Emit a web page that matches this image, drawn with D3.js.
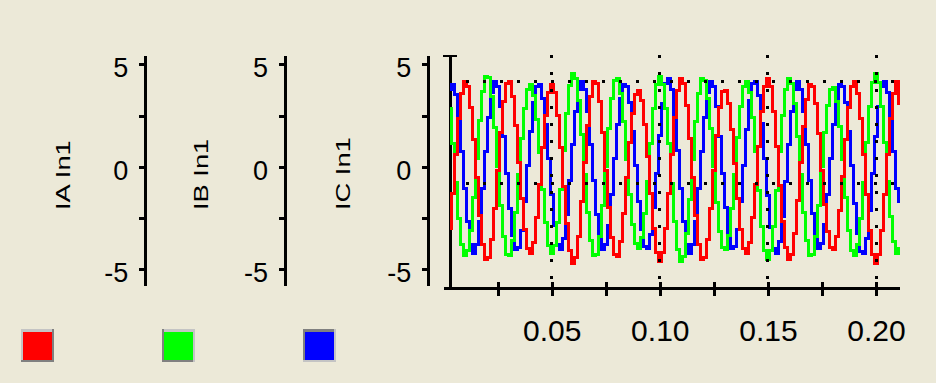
<!DOCTYPE html>
<html>
<head>
<meta charset="utf-8">
<script src="https://cdn.jsdelivr.net/npm/d3@7"></script>
<style>
  html, body { margin: 0; padding: 0; background: #ECE9D8; }
  svg { display: block; }
  text { font-family: "Liberation Sans", Arial, sans-serif; fill: #000; }
</style>
</head>
<body>
<svg id="chart" width="936" height="383"></svg>
<script>
// ---- data -------------------------------------------------------------
const sampleRate = 720;     // samples per second
const firstSample = 2;      // index of the first stored sample

const seriesNames = ["IA In1", "IB In1", "IC In1"];

const iaValues = [
  -2.98, -1.29, 0.60, 2.34, 3.60, 4.16, 3.92, 2.91, 1.33, -0.53,
  -2.36, -3.77, -4.50, -4.42, -3.54, -2.02, -0.15, 1.70, 3.21, 4.08,
  4.16, 3.44, 2.04, 0.23, -1.54, -3.03, -3.98, -4.20, -3.67, -2.49,
  -0.86, 0.93, 2.53, 3.63, 4.02, 3.63, 2.53, 0.93, -0.94, -2.77,
  -4.10, -4.69, -4.44, -3.37, -1.71, 0.23, 2.04, 3.44, 4.16, 4.08,
  3.21, 1.70, -0.15, -1.96, -3.43, -4.28, -4.37, -3.66, -2.29, -0.52,
  1.19, 2.61, 3.53, 3.74, 3.24, 2.09, 0.53, -1.31, -3.02, -4.19,
  -4.61, -4.19, -3.02, -1.31, 0.63, 2.43, 3.74, 4.32, 4.07, 3.02,
  1.39, -0.53, -2.36, -3.77, -4.50, -4.42, -3.54, -2.02, -0.15, 1.52,
  2.88, 3.67, 3.74, 3.09, 1.83, 0.19, -1.54, -3.03, -3.98, -4.20,
  -3.67, -2.49, -0.86, 1.01, 2.72, 3.90, 4.32, 3.90, 2.72, 1.01,
  -0.91, -2.66, -3.93, -4.50, -4.26, -3.24, -1.64, 0.22, 1.97, 3.31,
  4.02, 3.94, 3.09, 1.64, -0.15, -1.81, -3.16, -3.95, -4.02, -3.37,
  -2.12, -0.49, 1.33, 2.91, 3.92, 4.16, 3.60, 2.34, 0.60, -1.33,
  -3.09, -4.29, -4.72, -4.29, -3.09, -1.33, 0.60, 2.34, 3.60, 4.16,
  3.10
];

const ibValues = [
  2.83, 1.14, -0.76, -2.50, -3.78, -4.34, -4.10, -3.08, -1.49, 0.39,
  2.25, 3.69, 4.43, 4.35, 3.45, 1.90, 0.00, -1.87, -3.38, -4.26,
  -4.34, -3.61, -2.21, -0.38, 1.38, 2.86, 3.80, 4.02, 3.50, 2.32,
  0.70, -1.09, -2.70, -3.81, -4.20, -3.81, -2.70, -1.09, 0.80, 2.63,
  3.97, 4.56, 4.31, 3.24, 1.57, -0.38, -2.21, -3.61, -4.34, -4.26,
  -3.38, -1.87, 0.00, 1.86, 3.36, 4.24, 4.32, 3.60, 2.20, 0.38,
  -1.36, -2.81, -3.74, -3.96, -3.45, -2.28, -0.69, 1.15, 2.85, 4.01,
  4.43, 4.01, 2.85, 1.15, -0.81, -2.66, -4.01, -4.61, -4.35, -3.27,
  -1.58, 0.38, 2.20, 3.60, 4.32, 4.24, 3.36, 1.86, 0.00, -1.73,
  -3.13, -3.94, -4.02, -3.34, -2.04, -0.35, 1.43, 2.96, 3.93, 4.16,
  3.62, 2.40, 0.73, -1.17, -2.89, -4.08, -4.50, -4.08, -2.89, -1.17,
  0.76, 2.49, 3.76, 4.32, 4.08, 3.07, 1.48, -0.38, -2.21, -3.61,
  -4.34, -4.26, -3.38, -1.87, 0.00, 1.66, 3.00, 3.79, 3.86, 3.21,
  1.96, 0.34, -1.49, -3.08, -4.10, -4.34, -3.78, -2.50, -0.76, 1.18,
  2.93, 4.13, 4.56, 4.13, 2.93, 1.18, -0.73, -2.42, -3.65, -4.20,
  -3.97
];

const icValues = [
  3.80, 4.02, 3.51, 2.34, 0.74, -1.05, -2.68, -3.80, -4.20, -3.80,
  -2.68, -1.05, 0.77, 2.42, 3.63, 4.16, 3.93, 2.97, 1.46, -0.31,
  -2.02, -3.33, -4.02, -3.94, -3.11, -1.70, 0.05, 1.75, 3.14, 3.94,
  4.02, 3.35, 2.07, 0.40, -1.35, -2.84, -3.79, -4.02, -3.49, -2.30,
  -0.66, 1.11, 2.69, 3.77, 4.16, 3.77, 2.69, 1.11, -0.66, -2.30,
  -3.49, -4.02, -3.79, -2.84, -1.35, 0.40, 2.07, 3.35, 4.02, 3.94,
  3.14, 1.75, 0.05, -1.67, -3.07, -3.88, -3.96, -3.28, -1.99, -0.30,
  1.52, 3.08, 4.08, 4.32, 3.77, 2.51, 0.80, -1.05, -2.68, -3.80,
  -4.20, -3.80, -2.68, -1.05, 0.77, 2.42, 3.63, 4.16, 3.93, 2.97,
  1.46, -0.30, -1.99, -3.28, -3.96, -3.88, -3.07, -1.67, 0.05, 1.81,
  3.24, 4.08, 4.16, 3.47, 2.14, 0.41, -1.41, -2.97, -3.96, -4.20,
  -3.65, -2.40, -0.69, 1.11, 2.69, 3.77, 4.16, 3.77, 2.69, 1.11,
  -0.65, -2.26, -3.44, -3.96, -3.74, -2.80, -1.33, 0.40, 2.07, 3.35,
  4.02, 3.94, 3.14, 1.75, 0.05, -1.77, -3.25, -4.11, -4.20, -3.48,
  -2.11, -0.32, 1.46, 2.97, 3.93, 4.16, 3.63, 2.42, 0.77, -1.04,
  -1.70
];

const yTicks = [-5, -2.5, 0, 2.5, 5];
const yTickLabels = ["-5", "", "0", "", "5"];
const xTicks = [0.025, 0.05, 0.075, 0.10, 0.125, 0.15, 0.175, 0.20];
const xTickLabels = ["", "0.05", "", "0.10", "", "0.15", "", "0.20"];
const gridX = [0.05, 0.10, 0.15, 0.20];
const gridY = [4.18, -0.80];

// ---- styles -----------------------------------------------------------
const seriesColors = ["#FF0000", "#00FF00", "#0000FF"];
const LIGHT = "#C4C4C4", DARK = "#808080";
// bevel colours of each legend swatch: [top, left, bottom, right]
const swatchBevels = [
  [LIGHT, LIGHT, DARK, DARK],
  [LIGHT, DARK, DARK, LIGHT],
  [DARK, DARK, LIGHT, LIGHT]
];

// ---- scales -----------------------------------------------------------
const svg = d3.select("#chart");
const x = d3.scaleLinear().domain([0, 0.211]).range([443.6, 899.8]);
const y = d3.scaleLinear().domain([-5.76, 5.46]).range([285, 55]);

const series = [iaValues, ibValues, icValues];
const FONT = '"Liberation Sans", Arial, sans-serif';

// ---- one value axis per channel ---------------------------------------
const axisPos = [145.3, 285, 428.3];
const titlePos = [70, 208.3, 350];

seriesNames.forEach((name, k) => {
  const g = svg.append("g")
    .attr("transform", `translate(${axisPos[k]},0)`)
    .call(d3.axisLeft(y)
      .tickValues(yTicks)
      .tickSize(6)
      .tickSizeOuter(0)
      .tickPadding(11)
      .tickFormat((d, i) => yTickLabels[i]))
    .attr("font-family", FONT)
    .attr("font-size", 27)
    .attr("shape-rendering", "crispEdges");
  g.select(".domain").attr("stroke", "#000").attr("stroke-width", 3);
  g.selectAll(".tick line").attr("stroke", "#000").attr("stroke-width", 3);
  g.selectAll(".tick text").attr("fill", "#000").attr("dy", "0.46em");

  svg.append("text")
    .attr("transform", `translate(${titlePos[k]},210) rotate(-90) scale(1.3,1)`)
    .attr("text-anchor", "start")
    .attr("font-size", 21)
    .text(name);
});

// ---- plot frame ---------------------------------------------------------
const frame = svg.append("g").attr("shape-rendering", "crispEdges").attr("stroke", "#000");
frame.append("line").attr("x1", 450.5).attr("x2", 450.5).attr("y1", 55).attr("y2", 288)
  .attr("stroke-width", 3);
frame.append("line").attr("x1", 443).attr("x2", 457).attr("y1", 56).attr("y2", 56)
  .attr("stroke-width", 2.5);

const gx = svg.append("g")
  .attr("transform", "translate(0,287.5)")
  .call(d3.axisBottom(x)
    .tickValues(xTicks)
    .tickSizeOuter(0)
    .tickFormat((d, i) => xTickLabels[i]))
  .attr("font-family", FONT)
  .attr("font-size", 30)
  .attr("shape-rendering", "crispEdges");
gx.select(".domain").attr("stroke", "#000").attr("stroke-width", 3);
gx.selectAll(".tick line").attr("stroke", "#000").attr("stroke-width", 3)
  .attr("y1", -6).attr("y2", 8);
gx.selectAll(".tick text").attr("fill", "#000").attr("y", 53).attr("dy", 0);

// ---- waveforms ----------------------------------------------------------
const line = d3.line()
  .x((d, i) => x((firstSample + i) / sampleRate))
  .y(d => y(d))
  .curve(d3.curveStep);

const traces = svg.append("g")
  .attr("fill", "none")
  .attr("stroke-width", 3)
  .attr("stroke-linejoin", "miter")
  .attr("shape-rendering", "crispEdges");

[2, 1, 0].forEach(k => {
  traces.append("path")
    .datum(series[k])
    .attr("stroke", seriesColors[k])
    .attr("d", line);
});

// ---- dotted grid --------------------------------------------------------
const grid = svg.append("g")
  .attr("stroke", "#000")
  .attr("stroke-width", 3)
  .attr("stroke-dasharray", "3,14")
  .attr("shape-rendering", "crispEdges");

grid.selectAll("line.gx").data(gridX).join("line")
  .attr("class", "gx")
  .attr("x1", d => x(d)).attr("x2", d => x(d))
  .attr("y1", 54.5).attr("y2", 286);

grid.selectAll("line.gy").data(gridY).join("line")
  .attr("class", "gy")
  .attr("x1", 448.5).attr("x2", 899)
  .attr("y1", d => y(d)).attr("y2", d => y(d));

// ---- legend swatches ----------------------------------------------------
const sw = 33.5, sh = 33, swY = 329;
const legend = svg.append("g").attr("shape-rendering", "crispEdges");
seriesColors.forEach((c, k) => {
  const x0 = 20.5 + k * 141;
  const b = swatchBevels[k];
  const g = legend.append("g");
  g.append("rect").attr("x", x0).attr("y", swY).attr("width", sw).attr("height", sh).attr("fill", c);
  g.append("rect").attr("x", x0).attr("y", swY).attr("width", sw).attr("height", 2.5).attr("fill", b[0]);
  g.append("rect").attr("x", x0).attr("y", swY).attr("width", 2.5).attr("height", sh).attr("fill", b[1]);
  g.append("rect").attr("x", x0).attr("y", swY + sh - 2.5).attr("width", sw).attr("height", 2.5).attr("fill", b[2]);
  g.append("rect").attr("x", x0 + sw - 2.5).attr("y", swY).attr("width", 2.5).attr("height", sh).attr("fill", b[3]);
});
</script>
</body>
</html>
